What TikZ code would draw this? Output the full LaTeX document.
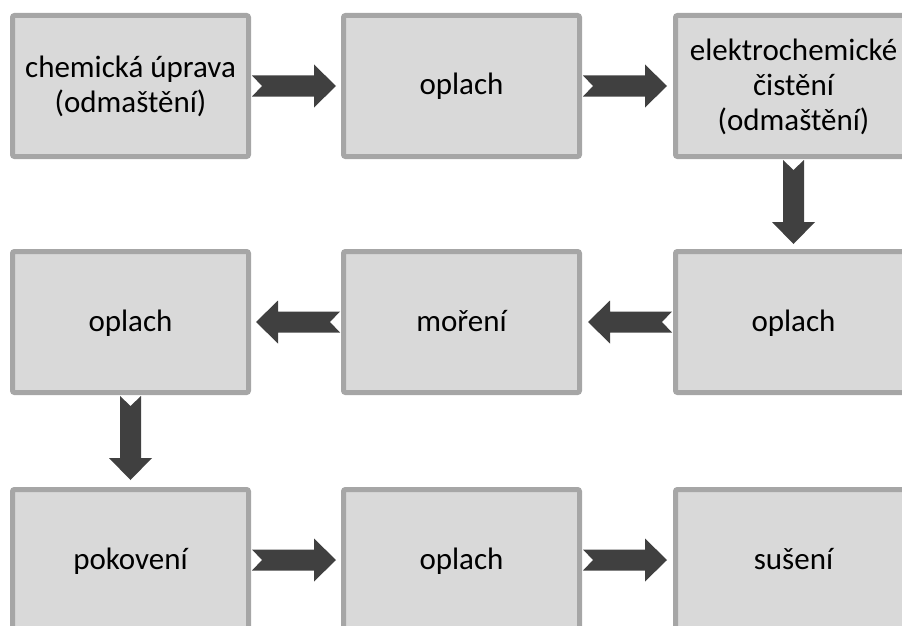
\documentclass[tikz,border=0pt]{standalone}
\usepackage{fontspec}
\setmainfont{Carlito}
\usetikzlibrary{calc}
\definecolor{boxfill}{HTML}{D9D9D9}
\definecolor{boxline}{HTML}{A6A6A6}
\definecolor{arrowfill}{HTML}{404040}
% fixed line strut so every line sits on the same baseline grid
\newcommand\linestrut{\rule[-8.5pt]{0pt}{35pt}}
\tikzset{
  stagebox/.style={draw=boxline, fill=boxfill, line width=5pt, outer sep=2.5pt,
    rounded corners=2pt, minimum width=236pt, minimum height=141pt,
    align=center, inner sep=0pt, font=\fontsize{31}{35}\selectfont},
  % notched block arrow, tail at the origin, pointing along +x
  flow/.pic={
    \fill[arrowfill] (1,-10.5) -- (63,-10.5) -- (63,-21.5) -- (85,0)
      -- (63,21.5) -- (63,10.5) -- (1,10.5) -- (11,0) -- cycle;
  }
}
\begin{document}
\begin{tikzpicture}[x=1pt,y=-1pt]
\useasboundingbox (0,0) rectangle (902,626);
\clip (0,0) rectangle (902,626);
% process stages
\node[stagebox] (s1) at (130.5,86) {\linestrut chemická úprava\\\linestrut(odmaštění)};
\node[stagebox] (s2) at (461.5,86) {\linestrut oplach};
\node[stagebox] (s3) at (793.5,86) {\linestrut elektrochemické\\\linestrut čistění\\\linestrut(odmaštění)};
\node[stagebox] (s4) at (793.5,322) {\linestrut oplach};
\node[stagebox] (s5) at (461.5,322) {\linestrut moření};
\node[stagebox] (s6) at (130.5,322) {\linestrut oplach};
\node[stagebox] (s7) at (130.5,560) {\linestrut pokovení};
\node[stagebox] (s8) at (461.5,560) {\linestrut oplach};
\node[stagebox] (s9) at (793.5,560) {\linestrut sušení};
% flow between stages
\pic at (s1.east) {flow};
\pic at (s2.east) {flow};
\pic[rotate=-90] at (s3.south) {flow};
\pic[rotate=180] at (s4.west) {flow};
\pic[rotate=180] at (s5.west) {flow};
\pic[rotate=-90] at (s6.south) {flow};
\pic at (s7.east) {flow};
\pic at (s8.east) {flow};
\end{tikzpicture}
\end{document}
